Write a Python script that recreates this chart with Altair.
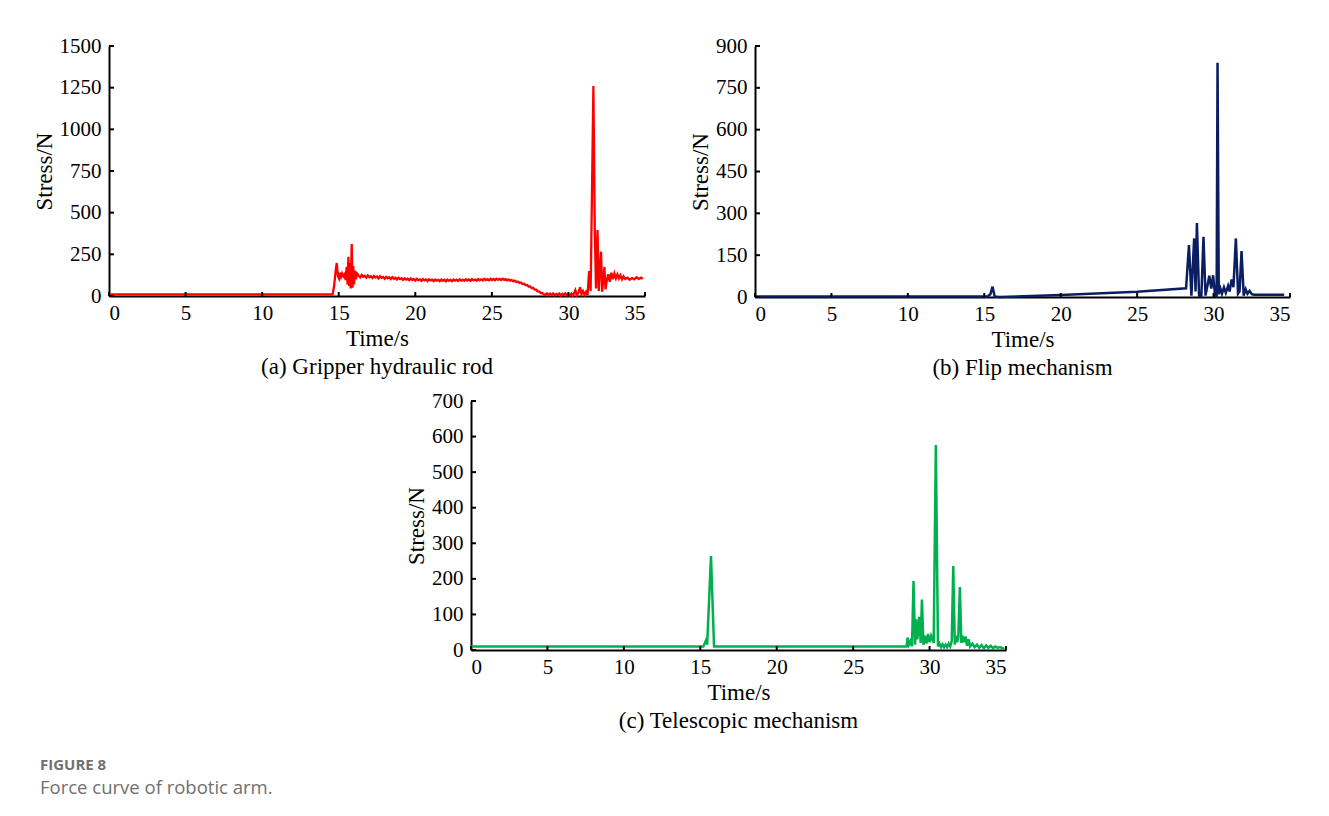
import altair as alt
import pandas as pd

# ---------------- data ----------------
x_ticks = [0, 5, 10, 15, 20, 25, 30, 35]

# (a) Gripper hydraulic rod
a_t = [0, 14.6, 14.7, 14.8, 14.87, 14.95, 15.02, 15.08, 15.15, 15.22, 15.3, 15.38, 15.45, 15.52, 15.58,
       15.63, 15.68, 15.73, 15.78, 15.85, 15.9, 15.95, 16.0, 16.05, 16.12, 16.2,
       16.3, 16.4, 16.5, 16.6, 16.7, 16.8, 16.9, 17.0, 17.1, 17.2,
       17.3, 17.4, 17.5, 17.6, 17.7, 17.8, 17.9, 18.0, 18.1, 18.2,
       18.3, 18.4, 18.5, 18.6, 18.7, 18.8, 18.9, 19.0, 19.1, 19.2,
       19.3, 19.4, 19.5, 19.6, 19.7, 19.8, 19.9, 20.0, 20.1, 20.2,
       20.3, 20.4, 20.5, 20.6, 20.7, 20.8, 20.9, 21.0, 21.1, 21.2,
       21.3, 21.4, 21.5, 21.6, 21.7, 21.8, 21.9, 22.0, 22.1, 22.2,
       22.3, 22.4, 22.5, 22.6, 22.7, 22.8, 22.9, 23.0, 23.1, 23.2,
       23.3, 23.4, 23.5, 23.6, 23.7, 23.8, 23.9, 24.0, 24.1, 24.2,
       24.3, 24.4, 24.5, 24.6, 24.7, 24.8, 24.9, 25.0, 25.1, 25.2,
       25.3, 25.4, 25.5, 25.6, 25.7, 25.8, 25.9, 26.0, 26.1, 26.2,
       26.3, 26.4, 26.5, 26.6, 26.7, 26.8, 26.9, 27.0, 27.1, 27.2,
       27.3, 27.4, 27.5, 27.6, 27.7, 27.8, 27.9, 28.0, 28.1, 28.2,
       28.3, 28.4,
       28.5, 28.6, 28.7, 28.8, 28.9, 29.0, 29.1, 29.2, 29.3, 29.4, 29.5, 29.6, 29.7, 29.8, 29.9,
       30.0, 30.1, 30.2, 30.3, 30.45, 30.55, 30.65, 30.76, 30.85, 30.95, 31.05, 31.15, 31.25, 31.35,
       31.45, 31.55, 31.63, 31.72, 31.8, 31.9, 31.98, 32.05, 32.13, 32.2, 32.28, 32.35, 32.42,
       32.5, 32.6, 32.7, 32.8, 32.9, 33.0, 33.1, 33.2, 33.3, 33.4, 33.5, 33.6, 33.7,
       33.85, 34.0, 34.15, 34.3, 34.45, 34.6, 34.75, 34.86]
a_v = [10, 10, 60, 150, 198, 120, 105, 140, 115, 135, 118, 130, 95, 175, 70,
       236, 60, 200, 45, 312, 50, 180, 70, 150, 100, 135,
       122, 112, 126, 115, 121, 110, 124, 113, 119, 108,
       120, 111, 117, 106, 118, 109, 114, 104, 115, 106,
       112, 102, 113, 104, 110, 99, 109, 101, 107, 97,
       106, 98, 104, 95, 105, 96, 102, 93, 103, 95,
       100, 91, 101, 94, 99, 90, 100, 93, 98, 89,
       99, 92, 97, 89, 99, 91, 97, 88, 98, 91,
       97, 89, 99, 92, 98, 90, 100, 92, 98, 91,
       100, 93, 99, 91, 101, 94, 99, 92, 102, 94,
       100, 93, 103, 95, 101, 94, 103, 96, 102, 95,
       104, 97, 103, 96, 104, 97, 101, 94, 99, 92,
       96, 88, 92, 84, 87, 78, 81, 72, 74, 65,
       66, 57, 57, 48, 48, 38, 38, 28, 27, 17,
       18, 10,
       8, 16, 5, 14, 6, 15, 4, 12, 6, 15, 3, 13, 5, 16, 4,
       12, 3, 14, 2, 35, 5, 20, 52, 10, 30, 8, 25, 5, 150,
       30, 700, 1260, 400, 45, 396, 30, 150, 266, 25, 100, 174, 40,
       90, 130, 85, 140, 100, 135, 105, 130, 105, 125, 100, 118, 102,
       110, 98, 108, 100, 112, 102, 110, 103]

# (b) Flip mechanism
b_t = [0, 15.2, 15.4, 15.54, 15.68, 16.0, 20, 25, 28.2, 28.39, 28.55, 28.73, 28.82, 28.91, 29.05,
       29.2, 29.34, 29.47, 29.6, 29.72, 29.85, 29.97, 30.1, 30.2, 30.26, 30.34, 30.45, 30.55, 30.68,
       30.8, 30.95, 31.05, 31.18, 31.3, 31.46, 31.6, 31.7, 31.83, 31.97, 32.1, 32.22, 32.35, 32.5,
       32.65, 34.62]
b_v = [2, 2, 10, 37, 2, 0, 7, 19, 31, 186, 5, 210, 20, 265, 5,
       3, 216, 5, 40, 76, 30, 78, 5, 3, 840, 10, 30, 12, 35,
       15, 40, 20, 63, 35, 210, 12, 20, 165, 5, 28, 12, 22, 10,
       8, 8]

# (c) Telescopic mechanism
c_t = [0, 15.2, 15.3, 15.37, 15.45, 15.7, 15.9, 28.5, 28.56, 28.65, 28.75, 28.85, 28.95, 29.05,
       29.12, 29.2, 29.32, 29.42, 29.5, 29.6, 29.7, 29.8, 29.9, 30.0, 30.1, 30.2, 30.27, 30.41, 30.55,
       30.65, 30.75, 30.85, 30.95, 31.05, 31.15, 31.25, 31.35, 31.45, 31.55, 31.65, 31.72, 31.8, 31.88,
       31.98, 32.08, 32.15, 32.25, 32.35, 32.45, 32.55, 32.65, 32.8, 32.95, 33.1, 33.25, 33.4, 33.55,
       33.7, 33.85, 34.0, 34.15, 34.3, 34.45, 34.6, 34.9]
c_v = [10, 10, 20, 27, 15, 264, 10, 10, 35, 15, 25, 10, 194, 15,
       86, 30, 93, 20, 142, 15, 40, 18, 45, 22, 40, 28, 20, 576, 10,
       18, 8, 16, 8, 15, 8, 18, 10, 25, 236, 15, 40, 22, 35,
       177, 20, 40, 22, 38, 12, 30, 10, 18, 8, 15, 6, 14, 5,
       13, 6, 12, 5, 10, 6, 8, 3]

a_y_ticks = [0, 250, 500, 750, 1000, 1250, 1500]
b_y_ticks = [0, 150, 300, 450, 600, 750, 900]
c_y_ticks = [0, 100, 200, 300, 400, 500, 600, 700]

SERIF = "Liberation Serif"


def panel(ts, vs, yticks, color, sw, label, w, h):
    df = pd.DataFrame({"t": ts, "v": vs})
    xs = alt.Scale(domain=[0, 35], nice=False)
    ys = alt.Scale(domain=[yticks[0], yticks[-1]], nice=False)
    x_axis = alt.Axis(values=x_ticks, title="Time/s", format="d", labelOverlap=False,
                      labelPadding=6, titlePadding=4)
    y_axis = alt.Axis(values=yticks, title="Stress/N", format="d", labelOverlap=False,
                      labelPadding=8, titlePadding=3)
    xe = alt.X("t:Q", scale=xs, axis=x_axis)
    ye = alt.Y("v:Q", scale=ys, axis=y_axis)
    line = alt.Chart(df).mark_line(color=color, strokeWidth=sw, strokeJoin="miter").encode(
        x=xe, y=ye)
    xt = alt.Chart(pd.DataFrame({"t": x_ticks})).mark_rule(color="black", strokeWidth=2).encode(
        x=xe, y=alt.value(h), y2=alt.value(h - 4))
    yt = alt.Chart(pd.DataFrame({"v": yticks})).mark_rule(color="black", strokeWidth=2).encode(
        y=ye, x=alt.value(0), x2=alt.value(5))
    return alt.layer(line, xt, yt).properties(
        width=w, height=h,
        title=alt.TitleParams(label, orient="bottom", anchor="middle", offset=6,
                              font=SERIF, fontSize=23, fontWeight="normal", color="black"))


pa = panel(a_t, a_v, a_y_ticks, "#ff0000", 2.3, "(a) Gripper hydraulic rod", 536, 250)
pb = panel(b_t, b_v, b_y_ticks, "#0b1e62", 2.5, "(b) Flip mechanism", 535, 251)
pc = panel(c_t, c_v, c_y_ticks, "#00b04f", 2.5, "(c) Telescopic mechanism", 535, 249)

spacer = alt.Chart(pd.DataFrame({"t": [0]})).mark_point(opacity=0).encode(
    x=alt.value(0), y=alt.value(0)).properties(width=296, height=10)

row1 = alt.hconcat(pa, pb, spacing=41)
row2 = alt.hconcat(spacer, pc, spacing=0)

chart = alt.vconcat(row1, row2, spacing=10).properties(
    padding={"left": 25, "top": 27, "right": 5, "bottom": 5},
    title=alt.TitleParams("FIGURE 8", subtitle="Force curve of robotic arm.", orient="bottom",
                          anchor="start", offset=25, dx=7, font="Open Sans", fontSize=15,
                          fontWeight="bold", color="#707070", subtitleFont="Open Sans",
                          subtitleFontSize=18.5, subtitleColor="#707070", subtitlePadding=6),
).configure_axis(
    domainColor="black", domainWidth=2, ticks=False, grid=False,
    labelFont=SERIF, labelFontSize=21, labelColor="black",
    titleFont=SERIF, titleFontSize=23, titleFontWeight="normal", titleColor="black",
).configure_view(stroke=None)

chart.save("out.html", embed_options={"renderer": "svg", "actions": False})
